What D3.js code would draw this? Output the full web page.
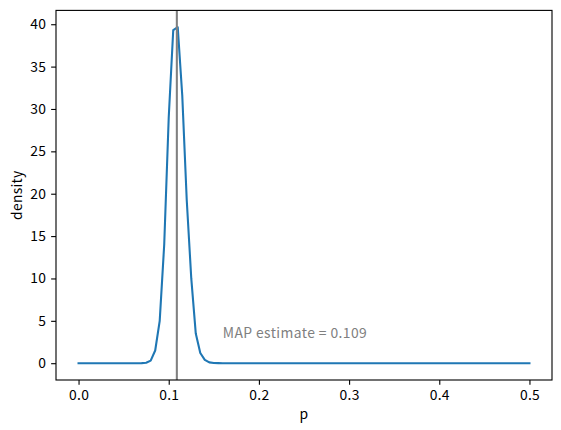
<!DOCTYPE html>
<html>
<head>
<meta charset="utf-8">
<script src="https://cdn.jsdelivr.net/npm/d3@7"></script>
<style>
  body { margin: 0; background: #fff; }
  svg text { font-family: "Noto Sans CJK JP", "Noto Sans", sans-serif; fill: #000; letter-spacing: 0.3px; }
</style>
</head>
<body>
<div id="chart"></div>
<script>
// posterior density
const pValues = [0.0, 0.05, 0.065, 0.07, 0.075, 0.08, 0.085, 0.09, 0.095, 0.1, 0.105,
  0.11, 0.115, 0.12, 0.125, 0.13, 0.135, 0.14, 0.145, 0.15, 0.155, 0.16, 0.2, 0.5];
const densityValues = [0, 0, 0, 0.01, 0.05, 0.3, 1.5, 5.0, 14.0, 29.0, 39.3,
  39.65, 31.6, 19.2, 10.0, 3.5, 1.2, 0.4, 0.1, 0.03, 0.01, 0, 0, 0];
const mapEstimate = 0.109;
const xTicks = [0.0, 0.1, 0.2, 0.3, 0.4, 0.5];
const yTicks = [0, 5, 10, 15, 20, 25, 30, 35, 40];
const mapLabel = 'MAP estimate = 0.109';
const mapLabelPos = [0.16, 3];

const pt = 100 / 72;
const W = 561, H = 430;
const margin = { top: 10.4, right: 9, bottom: 50, left: 56 };
const width = W - margin.left - margin.right;
const height = H - margin.top - margin.bottom;

const data = pValues.map((p, i) => ({ p, d: densityValues[i] }));

const svg = d3.select('#chart').append('svg')
  .attr('width', W)
  .attr('height', H);

const g = svg.append('g')
  .attr('transform', `translate(${margin.left},${margin.top})`);

// matplotlib style 5% padding around the data
const xExt = d3.extent(pValues);
const yExt = d3.extent(densityValues);
const xPad = (xExt[1] - xExt[0]) * 0.05;
const yPad = (yExt[1] - yExt[0]) * 0.05;

const x = d3.scaleLinear()
  .domain([xExt[0] - xPad, xExt[1] + xPad])
  .range([0, width]);
const y = d3.scaleLinear()
  .domain([yExt[0] - yPad, yExt[1] + yPad])
  .range([height, 0]);

g.append('clipPath').attr('id', 'clip')
  .append('rect').attr('width', width).attr('height', height);

const plot = g.append('g').attr('clip-path', 'url(#clip)');

plot.append('path')
  .datum(data)
  .attr('fill', 'none')
  .attr('stroke', '#1f77b4')
  .attr('stroke-width', 1.5 * pt)
  .attr('stroke-linejoin', 'round')
  .attr('stroke-linecap', 'square')
  .attr('d', d3.line().x((d) => x(d.p)).y((d) => y(d.d)));

plot.append('line')
  .attr('x1', x(mapEstimate)).attr('x2', x(mapEstimate))
  .attr('y1', 0).attr('y2', height)
  .attr('stroke', 'gray')
  .attr('stroke-width', 1.5 * pt);

g.append('text')
  .attr('x', x(mapLabelPos[0]))
  .attr('y', y(mapLabelPos[1]))
  .style('font-size', `${10 * pt}px`)
  .style('fill', 'gray')
  .style('letter-spacing', '0.4px')
  .text(mapLabel);

const xAxis = g.append('g')
  .attr('transform', `translate(0,${height})`)
  .call(d3.axisBottom(x).tickValues(xTicks).tickFormat(d3.format('.1f'))
    .tickSize(3.5 * pt).tickPadding(3.5 * pt));

const yAxis = g.append('g')
  .call(d3.axisLeft(y).tickValues(yTicks).tickFormat(d3.format('d'))
    .tickSize(3.5 * pt).tickPadding(3.5 * pt));

[xAxis, yAxis].forEach((ax) => {
  ax.select('.domain').remove();
  ax.selectAll('.tick line').attr('stroke', '#000').attr('stroke-width', 0.8 * pt);
  ax.selectAll('.tick text').style('font-size', `${10 * pt}px`).attr('fill', '#000');
});

g.append('rect')
  .attr('width', width)
  .attr('height', height)
  .attr('fill', 'none')
  .attr('stroke', '#000')
  .attr('stroke-width', 0.8 * pt);

g.append('text')
  .attr('x', width / 2)
  .attr('y', height + 39)
  .attr('text-anchor', 'middle')
  .style('font-size', `${10 * pt}px`)
  .text('p');

g.append('text')
  .attr('transform', `translate(${16.7 - margin.left},${height / 2}) rotate(-90)`)
  .attr('text-anchor', 'middle')
  .attr('dy', '0.35em')
  .style('font-size', `${10 * pt}px`)
  .text('density');
</script>
</body>
</html>
